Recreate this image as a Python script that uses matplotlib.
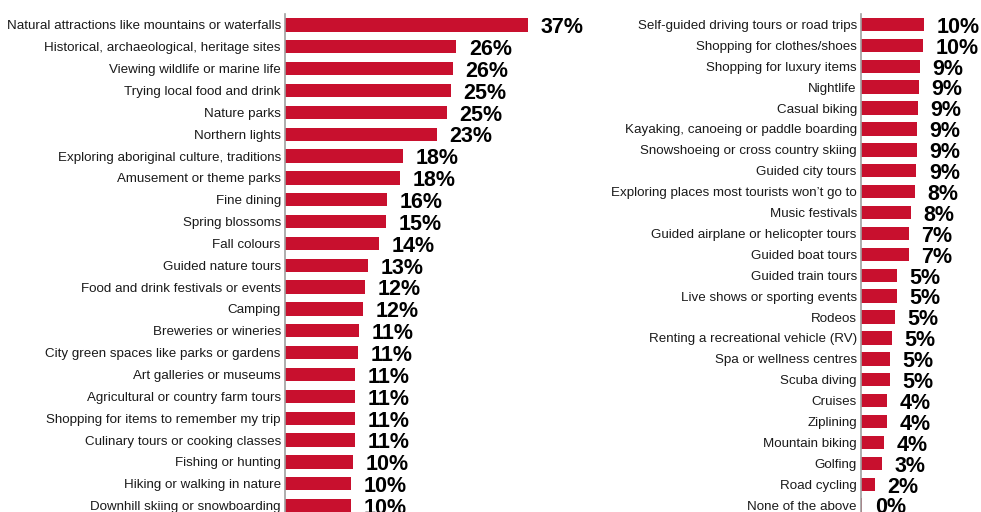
import matplotlib.pyplot as plt

left_labels = [
    "Natural attractions like mountains or waterfalls",
    "Historical, archaeological, heritage sites",
    "Viewing wildlife or marine life",
    "Trying local food and drink",
    "Nature parks",
    "Northern lights",
    "Exploring aboriginal culture, traditions",
    "Amusement or theme parks",
    "Fine dining",
    "Spring blossoms",
    "Fall colours",
    "Guided nature tours",
    "Food and drink festivals or events",
    "Camping",
    "Breweries or wineries",
    "City green spaces like parks or gardens",
    "Art galleries or museums",
    "Agricultural or country farm tours",
    "Shopping for items to remember my trip",
    "Culinary tours or cooking classes",
    "Fishing or hunting",
    "Hiking or walking in nature",
    "Downhill skiing or snowboarding",
]
left_values = [37.0, 26.1, 25.6, 25.2, 24.6, 23.1, 18.0, 17.5, 15.6, 15.4, 14.3,
               12.6, 12.2, 11.9, 11.3, 11.1, 10.7, 10.7, 10.6, 10.6, 10.4, 10.0, 10.0]
left_text = ["37%", "26%", "26%", "25%", "25%", "23%", "18%", "18%", "16%", "15%", "14%",
             "13%", "12%", "12%", "11%", "11%", "11%", "11%", "11%", "11%", "10%", "10%", "10%"]

right_labels = [
    "Self-guided driving tours or road trips",
    "Shopping for clothes/shoes",
    "Shopping for luxury items",
    "Nightlife",
    "Casual biking",
    "Kayaking, canoeing or paddle boarding",
    "Snowshoeing or cross country skiing",
    "Guided city tours",
    "Exploring places most tourists won\u2019t go to",
    "Music festivals",
    "Guided airplane or helicopter tours",
    "Guided boat tours",
    "Guided train tours",
    "Live shows or sporting events",
    "Rodeos",
    "Renting a recreational vehicle (RV)",
    "Spa or wellness centres",
    "Scuba diving",
    "Cruises",
    "Ziplining",
    "Mountain biking",
    "Golfing",
    "Road cycling",
    "None of the above",
]
right_values = [9.75, 9.6, 9.1, 8.9, 8.8, 8.65, 8.65, 8.5, 8.25, 7.7, 7.4, 7.4,
                5.5, 5.5, 5.2, 4.8, 4.5, 4.5, 4.05, 4.05, 3.55, 3.2, 2.15, 0.2]
right_text = ["10%", "10%", "9%", "9%", "9%", "9%", "9%", "9%", "8%", "8%", "7%", "7%",
              "5%", "5%", "5%", "5%", "5%", "5%", "4%", "4%", "4%", "3%", "2%", "0%"]

RED = "#C8102E"
W, H = 981, 512
fig = plt.figure(figsize=(W / 100, H / 100), dpi=100)
plt.rcParams['font.family'] = ['Liberation Sans', 'DejaVu Sans']


def panel(x0, spacing, xmax, labels, values, texts, px_per_pct, height):
    n = len(labels)
    top = 14
    ylo, yhi = -0.5, n + 1
    h_px = (yhi - ylo) * spacing
    w_px = xmax * px_per_pct
    ax = fig.add_axes([x0 / W, 1 - (top + h_px) / H, w_px / W, h_px / H])
    y = list(range(n))
    ax.barh(y, values, height=height, color=RED)
    ax.set_ylim(yhi, ylo)
    ax.set_xlim(0, xmax)
    ax.set_yticks(y)
    ax.set_yticklabels(labels, fontsize=9.6, color="#1a1a1a")
    ax.tick_params(axis="y", length=0, pad=3)
    ax.set_xticks([])
    for s in ["top", "right", "bottom"]:
        ax.spines[s].set_visible(False)
    ax.spines["left"].set_color("#a0a0a0")
    ax.spines["left"].set_linewidth(1.2)
    for yi, v, t in zip(y, values, texts):
        ax.annotate(t, (v, yi), xytext=(9, -2), textcoords="offset points",
                    va="center", ha="left", fontsize=15.5, fontweight="bold",
                    color="black")
    return ax


panel(285, 21.85, 45, left_labels, left_values, left_text, 6.57, 0.61)
panel(861, 20.9, 18, right_labels, right_values, right_text, 6.5, 0.64)

fig.savefig("out.png", dpi=100)
